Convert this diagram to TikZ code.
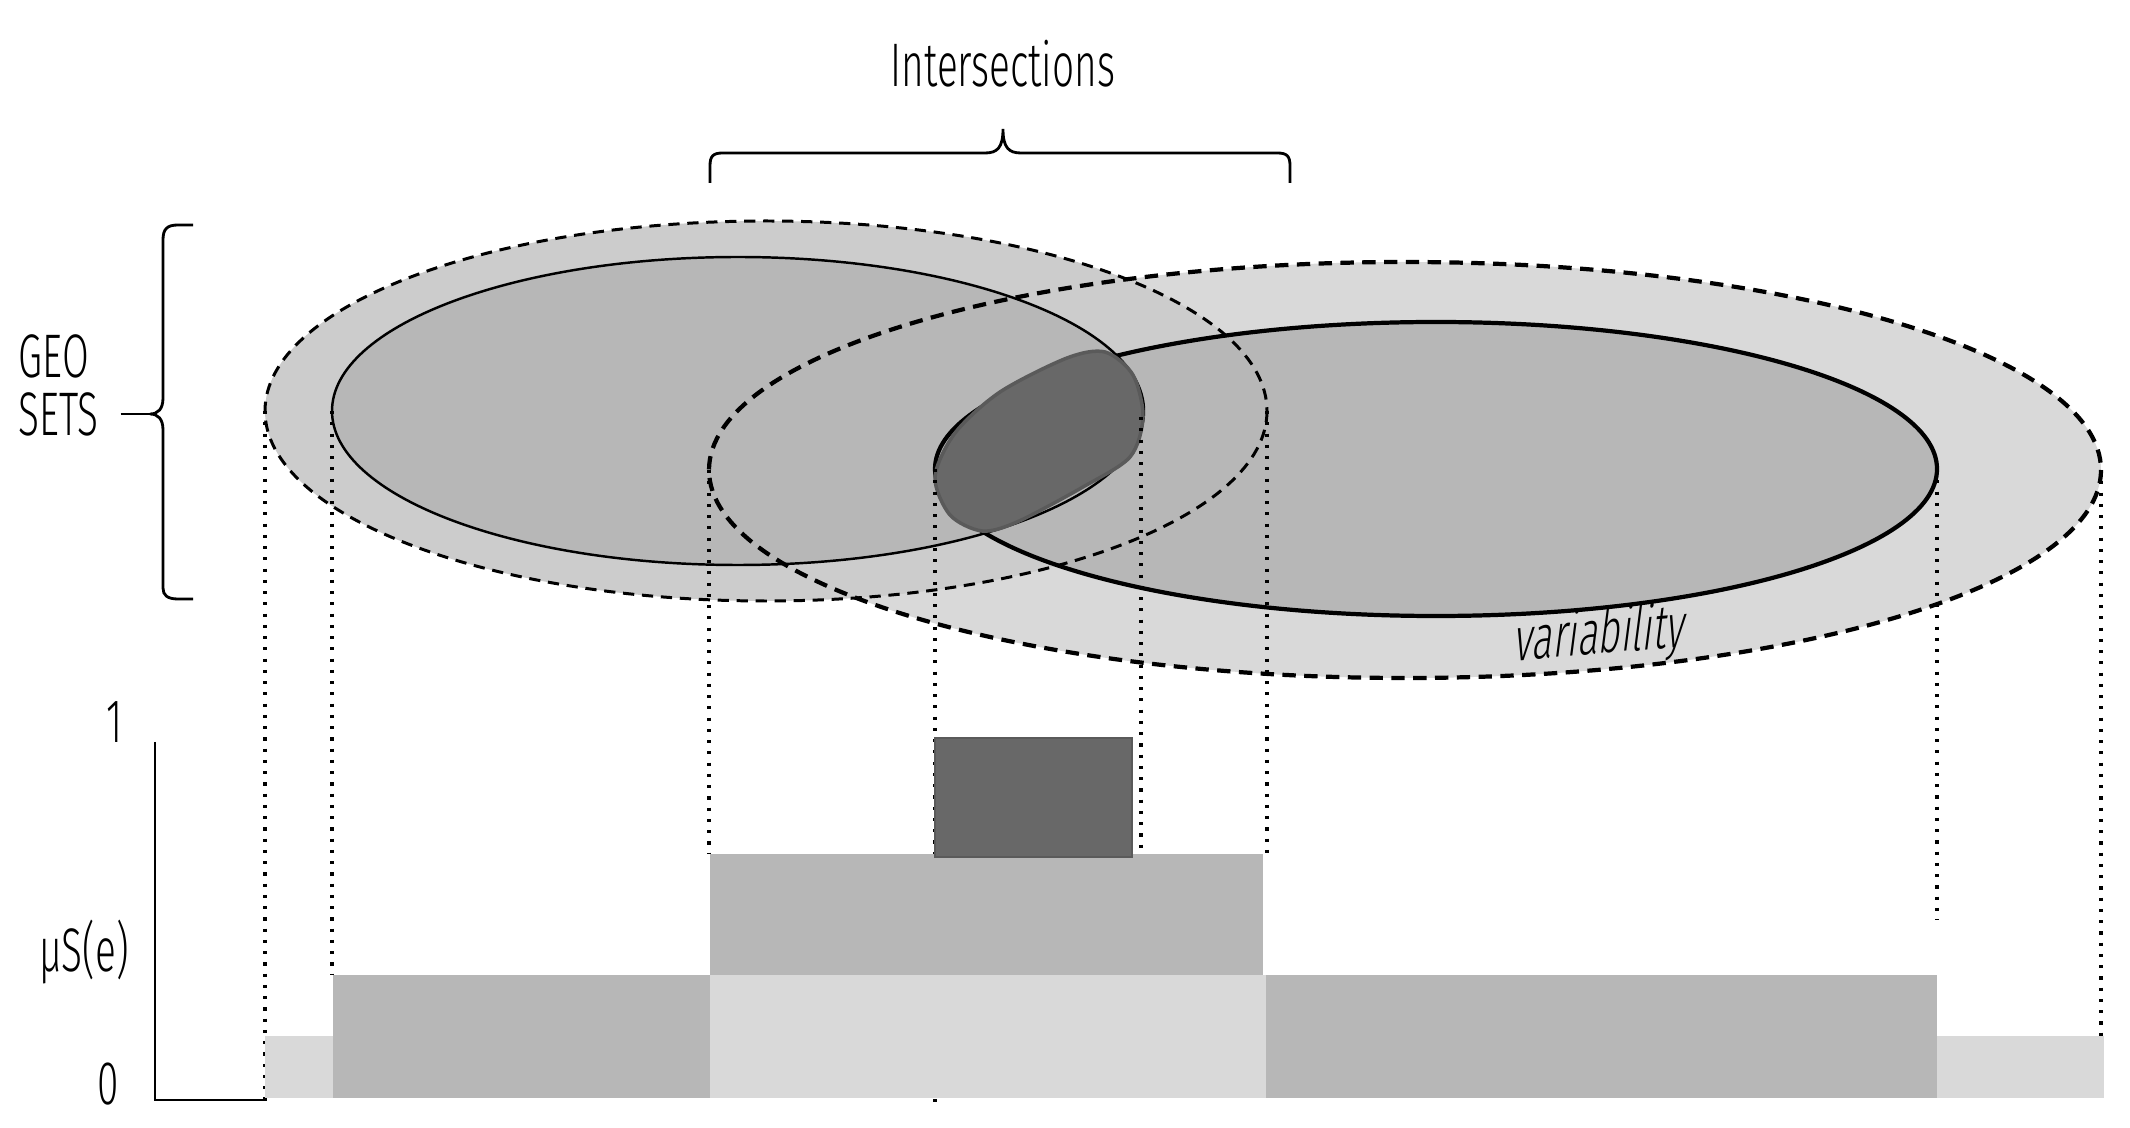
\documentclass[tikz,border=0pt]{standalone}
\usepackage{fontspec}
\setmainfont{Fira Sans Light}[FakeStretch=0.63, ItalicFont={Fira Sans Light}, ItalicFeatures={FakeSlant=0.22}]
\usepackage{tikz}
\usetikzlibrary{positioning}

\definecolor{ringL}{HTML}{CCCCCC}
\definecolor{ringR}{HTML}{D9D9D9}
\definecolor{core}{HTML}{B7B7B7}
\definecolor{dark}{HTML}{686868}
\definecolor{darkrim}{HTML}{5A5A5A}

\tikzset{
  lbl/.style={font=\fontsize{17.5}{20}\selectfont, inner sep=0pt},
  dashL/.style={line width=0.85pt, dash pattern=on 3.2pt off 2.2pt},
  dashR/.style={line width=1.2pt, dash pattern=on 3.8pt off 2.4pt},
  proj/.style={line width=0.9pt, dash pattern=on 0.9pt off 2.3pt},
}

\begin{document}
\begin{tikzpicture}[x=0.01cm,y=-0.01cm]
  \useasboundingbox (0,0) rectangle (2130,1128);

  % centres of the sets
  \coordinate (lo) at (766,411);
  \coordinate (li) at (738,411);
  \coordinate (ro) at (1405,470);
  \coordinate (ri) at (1436,469);

  % ends of the sets
  \coordinate (lo-w) at (265,411);
  \coordinate (lo-e) at (1267,411);
  \coordinate (li-w) at (332,411);
  \coordinate (ro-w) at (709,470);
  \coordinate (ro-e) at (2101,470);
  \coordinate (ri-w) at (935,469);
  \coordinate (ri-e) at (1937,469);
  \coordinate (bl-e) at (1141,417);

  % levels of the membership bars
  \coordinate (floor) at (0,1105);
  \coordinate (topL) at (0,1039);
  \coordinate (topG) at (0,975);
  \coordinate (topM) at (0,854);
  \coordinate (riEnd) at (0,920);

  % fills first, outlines on top
  \fill[ringR] (ro) ellipse [x radius=696, y radius=208];
  \fill[ringL] (lo) ellipse [x radius=501, y radius=190];
  \fill[core] (li) ellipse [x radius=406, y radius=154];
  \fill[core] (ri) ellipse [x radius=501, y radius=147];

  \draw[dashR] (ro) ellipse [x radius=696, y radius=208];
  \draw[dashL] (lo) ellipse [x radius=501, y radius=190];
  \draw[line width=0.7pt] (li) ellipse [x radius=406, y radius=154];
  \draw[line width=1.2pt] (ri) ellipse [x radius=501, y radius=147];

  % the intersection
  \filldraw[fill=dark, draw=darkrim, line width=1pt]
    plot[smooth cycle] coordinates {(935,477) (955,433) (1000,392) (1067,358)
      (1105,352) (1133,375) (1143,417) (1130,457) (1083,487) (1017,522)
      (982,531) (950,515)};

  \node[lbl, rotate=5] (var) at (1597,637) {\itshape variability};

  % projections
  \foreach \a/\b in {lo-w/floor, li-w/topG, ro-w/topM, ri-w/floor,
                     bl-e/topL, lo-e/topM, ri-e/riEnd, ro-e/topL}
    \draw[proj] (\a) -- (\a |- \b);

  % membership bars
  \fill[ringR] (265,1036) rectangle (2104,1098);
  \fill[core] (333,975) rectangle (710,1098);
  \fill[core] (1266,975) rectangle (1937,1098);
  \fill[ringR] (710,975) rectangle (1266,1036);
  \fill[core] (710,854) rectangle (1263,975);
  \filldraw[fill=dark, draw=darkrim, line width=0.5pt] (935,738) rectangle (1132,857);

  % axis
  \coordinate (ax1) at (155,742);
  \coordinate (ax0) at (155,1100);
  \coordinate (axE) at (265,1100);
  \draw[line width=0.8pt] (ax1) -- (ax0) -- (axE);
  \node[lbl] (one) at (115,722) {1};
  \node[lbl] (mu) at (84,952) {μS(e)};
  \node[lbl] (zero) at (108,1084) {0};

  % labels and braces
  \node[lbl] (title) at (1003,64) {Intersections};
  \coordinate (tipT) at (1003,129);
  \draw[line width=0.8pt] (710,183) -- (710,166) .. controls (710,156) and (713,153) .. (723,153)
    -- (985,153) .. controls (997,153) and (1003,148) .. (tipT)
    .. controls (1003,148) and (1009,153) .. (1021,153)
    -- (1277,153) .. controls (1287,153) and (1290,156) .. (1290,166) -- (1290,183);

  \node[lbl, anchor=west] (sets) at (18,414) {SETS};
  \node[lbl, above=0.58cm of sets.west, anchor=west] (geo) {GEO};
  \coordinate (tipL) at (150,414);
  \draw[line width=0.8pt] (193,225) -- (178,225) .. controls (167,225) and (163,229) .. (163,240)
    -- (163,398) .. controls (163,409) and (158,414) .. (tipL)
    .. controls (158,414) and (163,419) .. (163,430)
    -- (163,588) .. controls (163,595) and (167,599) .. (178,599) -- (193,599);
  \draw[line width=0.8pt, shorten <=6pt] (sets.east) -- (tipL);
\end{tikzpicture}
\end{document}
